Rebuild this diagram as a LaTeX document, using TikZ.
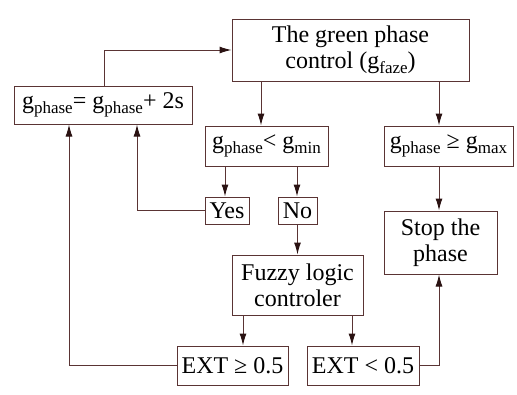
\documentclass[tikz,border=0pt]{standalone}
\usepackage{fontspec}
\setmainfont{Liberation Serif}
\usetikzlibrary{arrows.meta}
\definecolor{linebrown}{HTML}{5A3434}
\definecolor{tipbrown}{HTML}{2A1212}
\newcommand{\lowsub}[1]{\raisebox{-5.5pt}{\fontsize{17}{17}\selectfont #1}}

\begin{document}
\begin{tikzpicture}[x=1pt, y=-1pt, line width=1pt,
  box/.style = {draw=linebrown, align=center, inner sep=1pt,
    font=\fontsize{24}{26}\selectfont},
  arr/.style = {draw=linebrown, -{Latex[length=12pt,width=7pt,color=tipbrown]}}]
\useasboundingbox (0,0) rectangle (517,394);
\node[box, minimum width=237pt, minimum height=62pt] (green) at (350.5,50) {The green phase\\control (g\lowsub{faze})};
\node[box, minimum width=178pt, minimum height=38pt] (plus) at (103,105) {g\lowsub{phase}= g\lowsub{phase}+ 2s};
\node[box, minimum width=123pt, minimum height=40pt] (min) at (266.5,146) {g\lowsub{phase}< g\lowsub{min}};
\node[box, minimum width=129pt, minimum height=40pt] (max) at (448.5,146) {g\lowsub{phase} ≥ g\lowsub{max}};
\node[box, minimum width=44pt, minimum height=27pt] (yes) at (227,210.5) {Yes};
\node[box, minimum width=39pt, minimum height=27pt] (no) at (297.5,210.5) {No};
\node[box, minimum width=131pt, minimum height=60pt] (fuzzy) at (297.5,285) {Fuzzy logic\\controler};
\node[box, minimum width=113pt, minimum height=63pt] (stop) at (440.5,242.5) {Stop the\\phase};
\node[box, minimum width=111pt, minimum height=39pt] (ge) at (232.5,365.5) {EXT ≥ 0.5};
\node[box, minimum width=112pt, minimum height=39pt] (lt) at (363,365.5) {EXT < 0.5};
% down from the phase control
\draw[arr] (green.south -| 261,0) -- (min.north -| 261,0);
\draw[arr] (green.south -| 439,0) -- (max.north -| 439,0);
\draw[arr] (min.south -| 225,0) -- (yes.north -| 225,0);
\draw[arr] (min.south -| 297,0) -- (no.north -| 297,0);
\draw[arr] (no) -- (fuzzy);
\draw[arr] (fuzzy.south -| 243,0) -- (ge.north -| 243,0);
\draw[arr] (fuzzy.south -| 352,0) -- (lt.north -| 352,0);
\draw[arr] (max.south -| 439,0) -- (stop.north -| 439,0);
% back loops
\draw[arr] (lt.east) -| (stop.south -| 439,0);
\draw[arr] (yes.west) -| (plus.south -| 137,0);
\draw[arr] (ge.west) -| (plus.south -| 69,0);
\draw[arr] (plus.north -| 104,0) |- (green.west);
\end{tikzpicture}
\end{document}
